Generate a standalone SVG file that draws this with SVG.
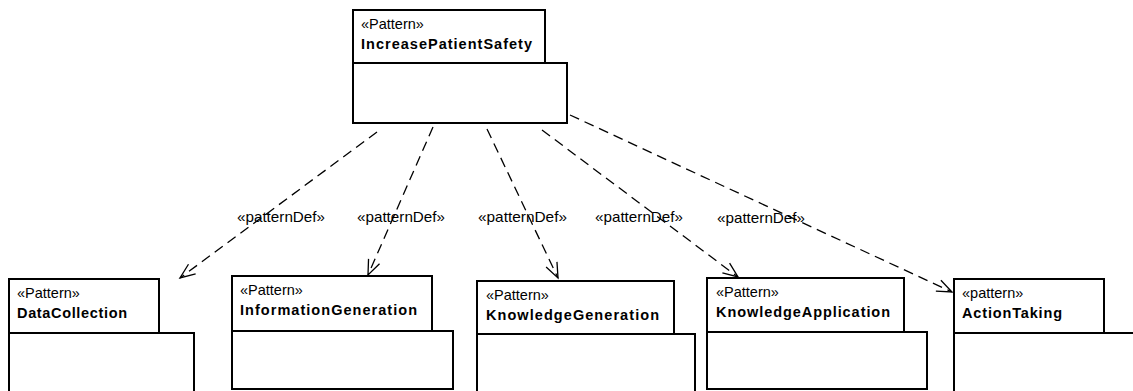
<svg xmlns="http://www.w3.org/2000/svg" width="1133" height="391" viewBox="0 0 1133 391">
<style>
.box{fill:#fff;stroke:#000;stroke-width:2}
.st{font-family:"Liberation Sans",Arial,sans-serif;font-size:14.5px;fill:#000}
.nm{font-family:"Liberation Sans",Arial,sans-serif;font-size:14.5px;font-weight:bold;fill:#000}
.lbl{font-family:"Liberation Sans",Arial,sans-serif;font-size:15px;fill:#000}
.dep{fill:none;stroke:#000;stroke-width:1.3;stroke-dasharray:10 6;marker-end:url(#open)}
</style>
<defs>
<marker id="open" markerUnits="userSpaceOnUse" markerWidth="20" markerHeight="20" refX="0" refY="0" viewBox="-16 -10 20 20" orient="auto">
<path d="M-15,-6 L0,0 L-15,6" fill="none" stroke="#000" stroke-width="1.3"/>
</marker>
</defs>
<rect width="1133" height="391" fill="#fff"/>
<g id="connectors">
<line class="dep" x1="377" y1="132" x2="180" y2="278"/>
<line class="dep" x1="433" y1="127" x2="368" y2="275"/>
<line class="dep" x1="487" y1="129" x2="558" y2="278"/>
<line class="dep" x1="542" y1="130" x2="738" y2="277"/>
<line class="dep" x1="570" y1="115" x2="952" y2="292"/>
<text class="lbl" x="237" y="222" textLength="88" lengthAdjust="spacingAndGlyphs">«patternDef»</text>
<text class="lbl" x="357" y="222" textLength="88" lengthAdjust="spacingAndGlyphs">«patternDef»</text>
<text class="lbl" x="478" y="222" textLength="89" lengthAdjust="spacingAndGlyphs">«patternDef»</text>
<text class="lbl" x="595" y="222" textLength="88" lengthAdjust="spacingAndGlyphs">«patternDef»</text>
<text class="lbl" x="717" y="223" textLength="88" lengthAdjust="spacingAndGlyphs">«patternDef»</text>
</g>
<g id="IncreasePatientSafety">
<rect class="box" x="353" y="63" width="214" height="60"/>
<rect class="box" x="353" y="10" width="192" height="53"/>
<text class="st" x="361" y="29">«Pattern»</text>
<text class="nm" x="361" y="49" textLength="171" lengthAdjust="spacing">IncreasePatientSafety</text>
</g>
<g id="DataCollection">
<rect class="box" x="9" y="333" width="185" height="70"/>
<rect class="box" x="9" y="279" width="150" height="54"/>
<text class="st" x="17" y="298">«Pattern»</text>
<text class="nm" x="17" y="318" textLength="110" lengthAdjust="spacing">DataCollection</text>
</g>
<g id="InformationGeneration">
<rect class="box" x="232" y="331" width="221" height="58"/>
<rect class="box" x="232" y="276" width="200" height="55"/>
<text class="st" x="240" y="295">«Pattern»</text>
<text class="nm" x="240" y="315" textLength="177" lengthAdjust="spacing">InformationGeneration</text>
</g>
<g id="KnowledgeGeneration">
<rect class="box" x="477" y="334" width="218" height="70"/>
<rect class="box" x="477" y="281" width="197" height="53"/>
<text class="st" x="486" y="300">«Pattern»</text>
<text class="nm" x="486" y="320" textLength="173" lengthAdjust="spacing">KnowledgeGeneration</text>
</g>
<g id="KnowledgeApplication">
<rect class="box" x="707" y="332" width="220" height="57"/>
<rect class="box" x="707" y="278" width="197" height="54"/>
<text class="st" x="716" y="297">«Pattern»</text>
<text class="nm" x="716" y="317" textLength="174" lengthAdjust="spacing">KnowledgeApplication</text>
</g>
<g id="ActionTaking">
<rect class="box" x="954" y="333" width="200" height="70"/>
<rect class="box" x="954" y="279" width="150" height="54"/>
<text class="st" x="962" y="298">«pattern»</text>
<text class="nm" x="962" y="318" textLength="100" lengthAdjust="spacing">ActionTaking</text>
</g>
</svg>
